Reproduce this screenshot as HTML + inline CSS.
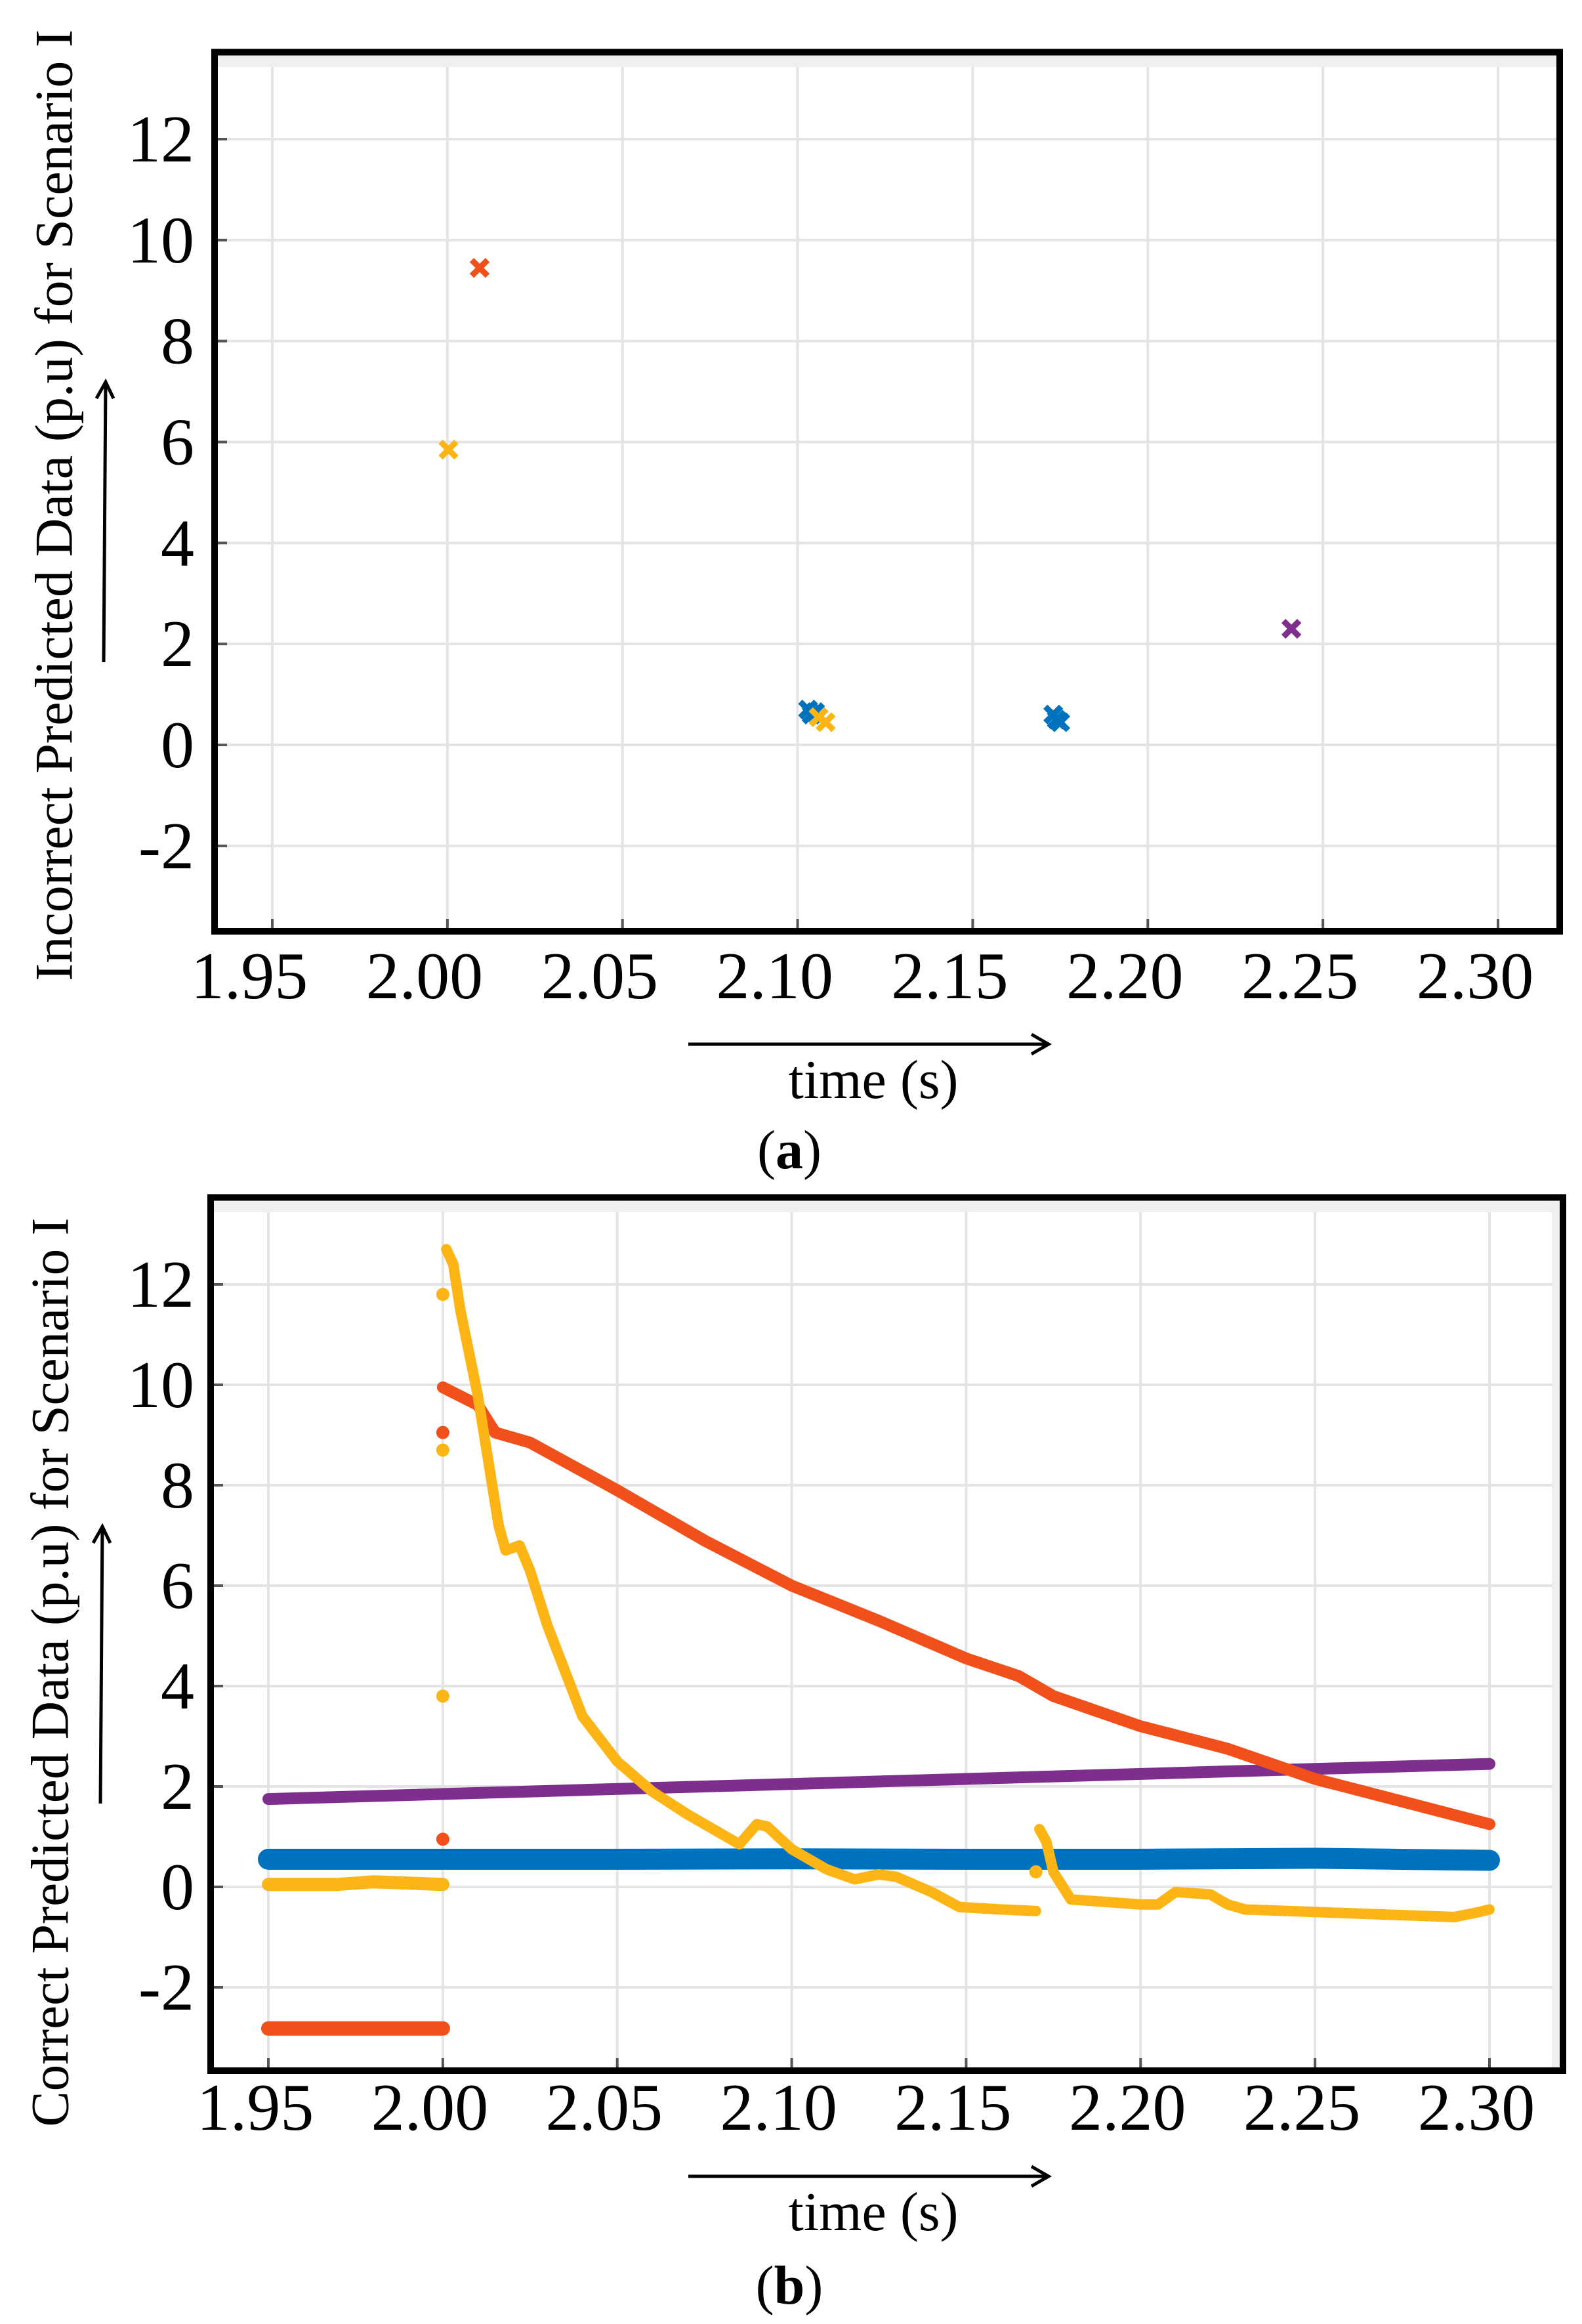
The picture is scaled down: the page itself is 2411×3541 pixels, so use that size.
<!DOCTYPE html>
<html><head><meta charset="utf-8"><style>
html,body{margin:0;padding:0;background:#fff;}
svg{display:block;}
text{font-family:"Liberation Serif",serif;fill:#000;}
</style></head><body>
<svg id="fig" width="2411" height="3541" viewBox="0 0 2411 3541" xmlns="http://www.w3.org/2000/svg">
<rect x="0" y="0" width="2411" height="3541" fill="#fff"/>
</svg>
<script>
// ---- shared tick data ----
const xTicks = [1.95, 2.00, 2.05, 2.10, 2.15, 2.20, 2.25, 2.30];
const xTickLabels = ["1.95","2.00","2.05","2.10","2.15","2.20","2.25","2.30"];
const yTicks = [-2, 0, 2, 4, 6, 8, 10, 12];
const yTickLabels = ["-2","0","2","4","6","8","10","12"];

// ---- panel (a) data: incorrect predictions (x markers) ----
const aRedT = [2.0092];      const aRedV = [9.45];
const aYellowT = [2.0003, 2.106, 2.108]; const aYellowV = [5.85, 0.55, 0.45];
const aBlueT = [2.103, 2.105, 2.104, 2.173, 2.175, 2.174]; const aBlueV = [0.7, 0.65, 0.6, 0.6, 0.45, 0.5];
const aPurpleT = [2.241];    const aPurpleV = [2.3];

// ---- panel (b) data: correct predictions ----
const bBlueT = [1.95, 2.00, 2.05, 2.10, 2.15, 2.20, 2.25, 2.30];
const bBlueV = [0.55, 0.55, 0.55, 0.56, 0.55, 0.55, 0.57, 0.53];
const bOrangePreT = [1.95, 2.00];
const bOrangePreV = [-2.82, -2.82];
const bOrangeT = [2.0, 2.01, 2.015, 2.025, 2.05, 2.075, 2.10, 2.125, 2.15, 2.165, 2.175, 2.20, 2.225, 2.25, 2.275, 2.30];
const bOrangeV = [9.95, 9.6, 9.05, 8.85, 7.9, 6.9, 6.0, 5.3, 4.55, 4.2, 3.8, 3.2, 2.75, 2.15, 1.7, 1.25];
const bOrangeDotT = [2.0, 2.0];
const bOrangeDotV = [9.05, 0.95];
const bPurpleT = [1.95, 2.30];
const bPurpleV = [1.75, 2.45];
const bYellowPreT = [1.95, 1.97, 1.98, 2.0];
const bYellowPreV = [0.05, 0.05, 0.1, 0.05];
const bYellowT = [2.001, 2.003, 2.005, 2.01, 2.013, 2.016, 2.018, 2.022, 2.025, 2.03, 2.035, 2.04, 2.05, 2.06, 2.07, 2.08, 2.085, 2.09, 2.093, 2.10, 2.11, 2.118, 2.125, 2.13, 2.14, 2.148, 2.16, 2.17];
const bYellowV = [12.7, 12.4, 11.5, 9.8, 8.5, 7.2, 6.7, 6.8, 6.3, 5.2, 4.3, 3.4, 2.5, 1.9, 1.45, 1.05, 0.85, 1.25, 1.2, 0.75, 0.35, 0.15, 0.25, 0.2, -0.1, -0.4, -0.45, -0.48];
const bYellow2T = [2.171, 2.173, 2.175, 2.18, 2.19, 2.20, 2.205, 2.21, 2.22, 2.225, 2.23, 2.25, 2.27, 2.29, 2.297, 2.30];
const bYellow2V = [1.15, 0.9, 0.3, -0.25, -0.3, -0.35, -0.35, -0.1, -0.15, -0.35, -0.45, -0.5, -0.55, -0.6, -0.5, -0.45];
const bYellowDotT = [2.0, 2.0, 2.0, 2.17];
const bYellowDotV = [11.8, 8.7, 3.8, 0.3];

const NS = "http://www.w3.org/2000/svg";
const svg = document.getElementById("fig");
function mk(tag, attrs, parent){
  const e = document.createElementNS(NS, tag);
  for (const k in attrs) e.setAttribute(k, attrs[k]);
  (parent||svg).appendChild(e);
  return e;
}

const panels = {
  a: {L:322, T:75, R:2382, B:1424, x0:415, x1:2283, yZero:1135, yTwelve:212, labelShiftX:-35, labelBase:1521,
      ytitle:"Incorrect Predicted Data (p.u) for Scenario I", ytX:82, ytY:770, ytLen:1450,
      yArrowX:158, yArrowB:1009, yArrowT:582, xArrowY:1591, xtitleY:1673, capY:1780, cap:"a", rightBand:false},
  b: {L:316, T:1820, R:2387, B:3160, x0:409, x1:2270, yZero:2875, yTwelve:1957, labelShiftX:-20, labelBase:3245,
      ytitle:"Correct Predicted Data (p.u) for Scenario I", ytX:76, ytY:2548, ytLen:1385,
      yArrowX:153, yArrowB:2748, yArrowT:2326, xArrowY:3316, xtitleY:3398, capY:3510, cap:"b", rightBand:true}
};

function axes(p){
  const sx = t => p.x0 + (t - 1.95) / 0.35 * (p.x1 - p.x0);
  const sy = v => p.yZero + v * (p.yTwelve - p.yZero) / 12;
  return {sx, sy};
}

function drawFrame(key){
  const p = panels[key]; const {sx, sy} = axes(p);
  const g = mk("g", {});
  
  
  const iL = p.L + 10, iT = p.T + 9, iR = p.R - 10, iB = p.B - 10;
  const band = mk("rect", {x:iL, y:iT, width:iR-iL, height:18, fill:"#efefef"}, g);
  
  
  if (p.rightBand){
    const rb = mk("rect", {x:iR-12, y:iT, width:12, height:iB-iT, fill:"#efefef"}, g);
    
    
  }
  xTicks.forEach((t, i) => {
    const gl = mk("line", {x1:sx(t), x2:sx(t), y1:iT+18, y2:iB, stroke:"#e4e4e4", "stroke-width":4}, g);
    
    
    const tk = mk("line", {x1:sx(t), x2:sx(t), y1:iB-14, y2:iB, stroke:"#555", "stroke-width":4}, g);
    
    
    const lb = mk("text", {x:sx(t)+p.labelShiftX, y:p.labelBase, "font-size":102, "text-anchor":"middle"}, g);
    lb.textContent = xTickLabels[i];
    
    
  });
  yTicks.forEach((v, i) => {
    const gl = mk("line", {x1:iL, x2:iR - (p.rightBand?12:0), y1:sy(v), y2:sy(v), stroke:"#e4e4e4", "stroke-width":4}, g);
    
    
    const tk = mk("line", {x1:iL, x2:iL+14, y1:sy(v), y2:sy(v), stroke:"#555", "stroke-width":4}, g);
    
    
    const lb = mk("text", {x:296, y:sy(v)+34, "font-size":102, "text-anchor":"end"}, g);
    lb.textContent = yTickLabels[i];
    
    
  });
  const fr = mk("rect", {x:p.L+5, y:p.T+4.5, width:p.R-p.L-10, height:p.B-p.T-9.5, fill:"none", stroke:"#000", "stroke-width":10}, g);
  
  
  const yt = mk("text", {x:0, y:0, "font-size":82, "text-anchor":"middle", "dominant-baseline":"central",
    transform:`translate(${p.ytX},${p.ytY}) rotate(-90)`, textLength:p.ytLen, lengthAdjust:"spacingAndGlyphs"}, g);
  yt.textContent = p.ytitle;
  
  
  const ya = mk("path", {d:`M${p.yArrowX},${p.yArrowB} L${p.yArrowX+3},${p.yArrowT} M${p.yArrowX-11},${p.yArrowT+25} L${p.yArrowX+3},${p.yArrowT} L${p.yArrowX+15},${p.yArrowT+25}`, fill:"none", stroke:"#000", "stroke-width":5}, g);
  
  
  const xa = mk("path", {d:`M1049,${p.xArrowY} L1598,${p.xArrowY} M1572,${p.xArrowY-15} L1598,${p.xArrowY} L1572,${p.xArrowY+15}`, fill:"none", stroke:"#000", "stroke-width":5}, g);
  
  
  const xt = mk("text", {x:1331, y:p.xtitleY, "font-size":84, "text-anchor":"middle", textLength:259, lengthAdjust:"spacingAndGlyphs"}, g);
  xt.textContent = "time (s)";
  
  
  const cp = mk("text", {x:1203, y:p.capY, "font-size":84, "text-anchor":"middle"}, g);
  cp.innerHTML = '(<tspan font-weight="bold">' + p.cap + '</tspan>)';
  
  
  return g;
}

drawFrame("a");
drawFrame("b");

// ---- panel (a) markers ----
(function(){
  const {sx, sy} = axes(panels.a);
  function crosses(T, V, color, name){
    T.forEach((t, i) => {
      const x = sx(t), y = sy(V[i]), r = 12;
      const m = mk("path", {d:`M${x-r},${y-r} L${x+r},${y+r} M${x-r},${y+r} L${x+r},${y-r}`, stroke:color, "stroke-width":9, fill:"none"});
      
      
    });
  }
  crosses(aBlueT, aBlueV, "#0072bd", "blue-marker");
  crosses(aYellowT, aYellowV, "#fdb515", "yellow-marker");
  crosses(aRedT, aRedV, "#f2501a", "red-marker");
  crosses(aPurpleT, aPurpleV, "#7e2f8e", "purple-marker");
})();

// ---- panel (b) series ----
(function(){
  const {sx, sy} = axes(panels.b);
  function line(T, V, color, w, name){
    const pts = T.map((t, i) => sx(t).toFixed(1) + "," + sy(V[i]).toFixed(1)).join(" ");
    const l = mk("polyline", {points:pts, fill:"none", stroke:color, "stroke-width":w, "stroke-linecap":"round", "stroke-linejoin":"round"});
    
    
  }
  function dots(T, V, color, r, name){
    T.forEach((t, i) => {
      const c = mk("circle", {cx:sx(t), cy:sy(V[i]), r:r, fill:color});
      
      
    });
  }
  line(bBlueT, bBlueV, "#0072bd", 32, "blue-series");
  line(bPurpleT, bPurpleV, "#7e2f8e", 18, "purple-series");
  line(bOrangePreT, bOrangePreV, "#f2501a", 22, "orange-series-pre");
  line(bOrangeT, bOrangeV, "#f2501a", 18, "orange-series");
  dots(bOrangeDotT, bOrangeDotV, "#f2501a", 10, "orange-outlier");
  line(bYellowPreT, bYellowPreV, "#fdb515", 20, "yellow-series-pre");
  line(bYellowT, bYellowV, "#fdb515", 16, "yellow-series");
  line(bYellow2T, bYellow2V, "#fdb515", 16, "yellow-series-late");
  dots(bYellowDotT, bYellowDotV, "#fdb515", 10, "yellow-outlier");
})();
</script>
</body></html>
